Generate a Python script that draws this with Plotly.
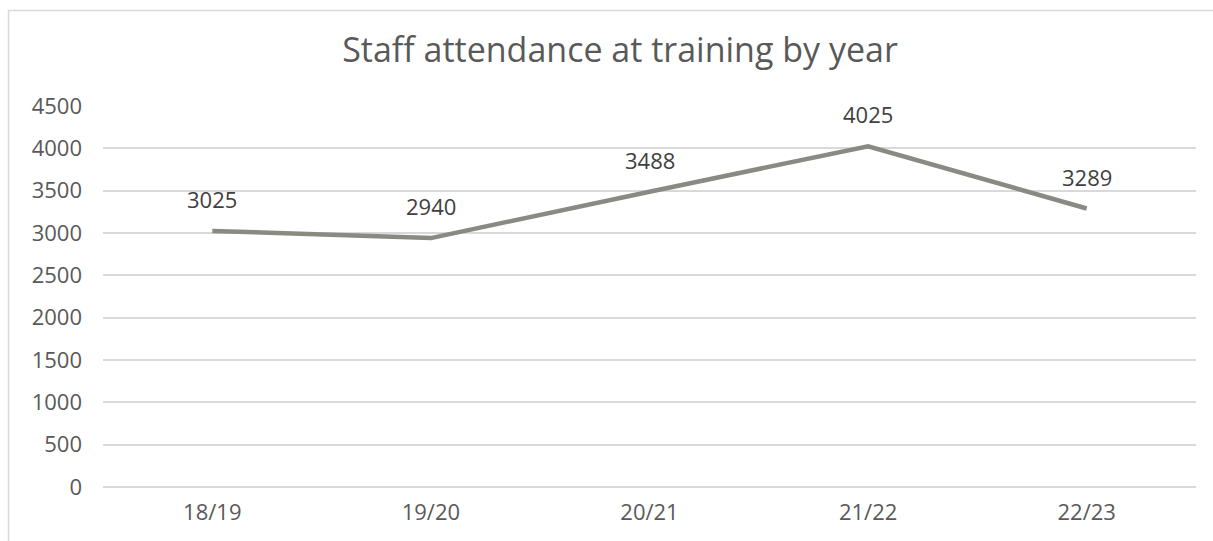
import plotly.graph_objects as go

# Academic years and staff attendance totals
years = ["18/19", "19/20", "20/21", "21/22", "22/23"]
attendance = [3025, 2940, 3488, 4025, 3289]
y_ticks = [0, 500, 1000, 1500, 2000, 2500, 3000, 3500, 4000, 4500]

FONT = "Open Sans"
W, H = 1213, 541
L, R, T, B = 103, 17, 106, 54
pw, ph = W - L - R, H - T - B

fig = go.Figure()
fig.add_trace(go.Scatter(
    x=years, y=attendance, mode="lines",
    line=dict(color="#898a82", width=4.5),
    hoverinfo="x+y", showlegend=False,
))

# Value labels above each point
for yr, v in zip(years, attendance):
    fig.add_annotation(x=yr, y=v, text=str(v), showarrow=False,
                       yshift=32, font=dict(family=FONT, size=22, color="#404040"))

# Chart outline
fig.add_shape(type="rect", xref="paper", yref="paper",
              x0=(8.5 - L) / pw, x1=1.2, y0=-0.3, y1=1 + (T - 10.5) / ph,
              line=dict(color="#d9d9d9", width=1.5), fillcolor="rgba(0,0,0,0)")

fig.update_layout(
    width=W, height=H,
    margin=dict(l=L, r=R, t=T, b=B),
    paper_bgcolor="white", plot_bgcolor="white",
    title=dict(text="Staff attendance at training by year", x=620 / W, xanchor="center",
               y=1 - 50 / H, yanchor="middle",
               font=dict(family=FONT, size=34, color="#595959")),
    xaxis=dict(type="category", range=[-0.5, 4.5], showgrid=False, zeroline=False,
               showline=False, ticks="", ticklabelstandoff=10,
               tickfont=dict(family=FONT, size=22, color="#595959")),
    yaxis=dict(range=[0, 4500], tickvals=y_ticks, showgrid=True, gridcolor="#d9d9d9",
               gridwidth=1.5, zeroline=True, zerolinecolor="#d9d9d9", zerolinewidth=1.5,
               showline=False, ticks="",
               ticklabelstandoff=20,
               tickfont=dict(family=FONT, size=22, color="#595959")),
)

fig.write_html("out.html")
